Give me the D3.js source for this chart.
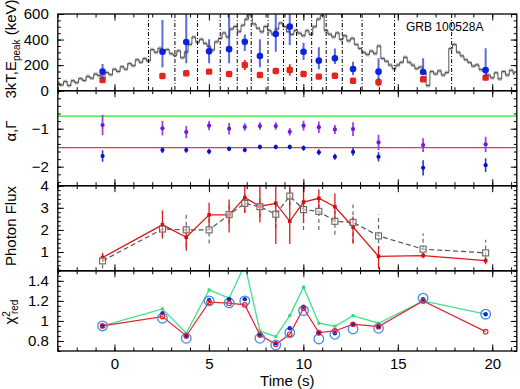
<!DOCTYPE html>
<html><head><meta charset="utf-8">
<script src="https://cdn.jsdelivr.net/npm/d3@7"></script>
<style>
body{margin:0;background:#fff}
text{font-family:"Liberation Sans",Arial,Helvetica,sans-serif}
</style>
</head><body>
<svg id="c" width="520" height="389"></svg>
<script>
// ---------- DATA ----------
const times = [-0.63, 2.54, 3.80, 5.01, 6.07, 6.90, 7.70, 8.54, 9.28, 10.01, 10.82, 11.67, 12.63, 13.98, 16.34, 19.65];
const binEdges = [1.80, 3.20, 4.40, 5.60, 6.50, 7.24, 8.13, 8.95, 9.64, 10.44, 11.21, 12.06, 13.11, 14.83, 17.85];

// Panel 1: light curve (scaled counts), Epeak and 3kT
const lcStart = -3.0, lcStep = 0.2;
const lightCurve = [60,45,72,40,78,62,95,80,112,98,130,118,92,142,125,168,150,188,168,212,
  195,242,222,252,232,322,300,332,305,322,290,276,312,258,302,362,420,380,402,370,
  345,318,382,410,452,420,482,502,462,512,560,595,522,488,460,502,470,442,482,530,
  502,462,440,472,450,430,470,440,500,560,590,470,442,420,452,400,430,390,410,362,
  330,300,282,310,290,350,252,230,200,172,200,222,262,222,200,172,185,142,40,150,
  130,155,122,142,330,362,300,272,242,220,192,202,165,150,122,100,140,92,150,122,160,132];
const epeak   = [149, 305, 381, 308, 325, 382, 271, 443, 501, 305, 235, 253, 170, 149, 146, 162];
const epeakLo = [89, 183, 214, 214, 214, 310, 183, 305, 357, 240, 167, 209, 123, 84, 123, 110];
const epeakHi = [209, 553, 700, 402, 700, 440, 402, 700, 700, 375, 339, 331, 227, 253, 253, 332];
const kT3     = [84, 115, 136, 149, 131, 201, 123, 154, 162, 131, 110, 117, 78, 66, 89, 102];
const kT3Err  = [12, 12, 15, 12, 12, 40, 12, 20, 45, 12, 10, 10, 10, 32, 10, 10];

// Panel 2: alpha and Gamma
const alpha    = [-0.905, -0.99, -1.09, -0.92, -1.0, -0.955, -0.93, -0.93, -1.08, -0.92, -0.96, -1.02, -1.01, -1.36, -1.43, -1.41];
const alphaErr = [0.27, 0.19, 0.16, 0.12, 0.15, 0.1, 0.1, 0.1, 0.1, 0.13, 0.15, 0.12, 0.18, 0.2, 0.18, 0.2];
const gamma    = [-1.72, -1.56, -1.56, -1.6, -1.53, -1.56, -1.48, -1.48, -1.48, -1.51, -1.62, -1.74, -1.61, -1.74, -2.03, -1.96];
const gammaErr = [0.15, 0.08, 0.07, 0.07, 0.06, 0.06, 0.06, 0.06, 0.06, 0.07, 0.08, 0.08, 0.1, 0.12, 0.2, 0.18];
const lineOfDeath = [-2/3, -3/2];

// Panel 3: photon flux
const flux     = [0.75, 2.23, 1.67, 2.68, 2.68, 3.46, 3.07, 3.2, 2.39, 3.26, 3.43, 3.05, 2.13, 0.8, 0.84, 0.61];
const fluxLo   = [0.55, 1.67, 1.06, 2.16, 1.88, 2.77, 2.33, 1.36, 1.36, 2.31, 2.92, 2.39, 1.39, 0.25, 0.72, 0.45];
const fluxHi   = [0.96, 2.88, 2.16, 3.23, 3.38, 4.2, 4.0, 4.2, 3.99, 4.2, 3.84, 3.66, 2.61, 1.27, 0.96, 0.77];
const fluxTh   = [0.6, 2.04, 2.0, 2.0, 2.69, 3.2, 3.05, 2.71, 3.53, 2.92, 2.84, 2.39, 2.34, 1.73, 1.13, 0.96];
const fluxThLo = [0.25, 1.6, 1.24, 1.39, 2.3, 2.8, 2.6, 2.08, 3.07, 2.0, 2.0, 1.78, 1.4, 1.09, 0.78, 0.8];
const fluxThHi = [0.86, 2.5, 2.77, 2.54, 3.1, 3.6, 3.5, 3.23, 3.96, 3.5, 3.38, 2.85, 3.15, 2.7, 1.85, 1.55];

// Panel 4: reduced chi-square
const chiGreen  = [0.95, 1.12, 0.877, 1.31, 1.227, 1.56, 0.9, 0.843, 1.053, 1.337, 0.977, 0.947, 1.053, 0.977, 1.2, 1.067];
const chiRed    = [0.95, 1.043, 0.85, 1.187, 1.177, 1.16, 0.86, 0.767, 0.867, 1.127, 0.883, 0.9, 0.967, 0.943, 1.2, 0.893];
const chiBlue   = [0.95, 1.077, 0.85, 1.21, 1.217, 1.217, 0.86, 0.777, 0.927, 1.143, 0.877, 0.877, 0.967, 0.94, 1.217, 1.067];
const chiCircle = [0.95, 1.027, 0.827, 1.2, 1.18, 1.2, 0.827, 0.76, 0.883, 1.103, 0.82, 0.867, 0.92, 0.927, 1.227, 1.067];

const xMajor = [0, 5, 10, 15, 20];
const xMinor = d3.range(-3, 22, 1);

// ---------- LAYOUT ----------
const svg = d3.select("#c");
const X0 = 57.8, X1 = 516.8;
const x = d3.scaleLinear().domain([-3, 21.3]).range([X0, X1]);

const P = [
  {y0:14,    y1:90.7,  dom:[0,600],    major:[0,200,400,600], minor:d3.range(0,601,50),        fmt:d3.format("d")},
  {y0:90.7,  y1:185.7, dom:[-2.5,0],   major:[-2,-1],         minor:d3.range(-2.4,0.01,0.2),   fmt:d3.format("d")},
  {y0:185.7, y1:270.8, dom:[0.15,4],   major:[1,2,3,4],       minor:d3.range(0.2,4.01,0.2),    fmt:d3.format("d")},
  {y0:270.8, y1:351,   dom:[0.7,1.5],  major:[0.8,1,1.2,1.4], minor:d3.range(0.7,1.501,0.05),  fmt:d3.format("~g")}
];

const defs = svg.append("defs");
P.forEach((p,i)=>{
  p.y = d3.scaleLinear().domain(p.dom).range([p.y1,p.y0]);
  defs.append("clipPath").attr("id","clip"+i).append("rect")
    .attr("x",X0).attr("y",p.y0).attr("width",X1-X0).attr("height",p.y1-p.y0);
  p.g = svg.append("g").attr("clip-path",`url(#clip${i})`);
});

// ---------- PANEL 1 ----------
{
  const p = P[0], y = p.y, g = p.g;
  const lc = lightCurve.map((v,i)=>({t: lcStart + i*lcStep, v}));
  g.append("path").datum(lc)
    .attr("d", d3.area().curve(d3.curveStep).x(d=>x(d.t)).y0(d=>y(d.v-14)).y1(d=>y(d.v+14)))
    .attr("fill","#bcbcbc");
  g.append("path").datum(lc)
    .attr("d", d3.line().curve(d3.curveStep).x(d=>x(d.t)).y(d=>y(d.v)))
    .attr("fill","none").attr("stroke","#444").attr("stroke-width",0.9);
  g.selectAll(".edge").data(binEdges).join("line")
    .attr("x1",d=>x(d)).attr("x2",d=>x(d)).attr("y1",p.y0).attr("y2",p.y1)
    .attr("stroke","#000").attr("stroke-width",1).attr("stroke-dasharray","4,2,1,2");
  g.selectAll(".kterr").data(times).join("line")
    .attr("x1",d=>x(d)).attr("x2",d=>x(d))
    .attr("y1",(d,i)=>y(kT3[i]-kT3Err[i])).attr("y2",(d,i)=>y(kT3[i]+kT3Err[i]))
    .attr("stroke","#e52420").attr("stroke-width",1.8);
  g.selectAll(".kt").data(times).join("rect")
    .attr("x",d=>x(d)-3.2).attr("y",(d,i)=>y(kT3[i])-3.2).attr("width",6.4).attr("height",6.4).attr("rx",1.6)
    .attr("fill","#e8231f");
  g.selectAll(".eperr").data(times).join("line")
    .attr("x1",d=>x(d)).attr("x2",d=>x(d))
    .attr("y1",(d,i)=>y(epeakLo[i])).attr("y2",(d,i)=>y(epeakHi[i]))
    .attr("stroke","#2438d2").attr("stroke-width",2).attr("stroke-opacity",0.75);
  g.selectAll(".ep").data(times).join("circle")
    .attr("cx",d=>x(d)).attr("cy",(d,i)=>y(epeak[i])).attr("r",3.3)
    .attr("fill","#0b22e0");
  svg.append("text").attr("x",444.7).attr("y",31).attr("text-anchor","middle")
    .attr("font-size",12).text("GRB 100528A");
}

// ---------- PANEL 2 ----------
{
  const p = P[1], y = p.y, g = p.g;
  const cols = ["#33dd33","#e23a3a"];
  g.selectAll(".lod").data(lineOfDeath).join("line")
    .attr("x1",X0).attr("x2",X1).attr("y1",d=>y(d)).attr("y2",d=>y(d))
    .attr("stroke",(d,i)=>cols[i]).attr("stroke-width",1.3);
  g.selectAll(".aerr").data(times).join("line")
    .attr("x1",d=>x(d)).attr("x2",d=>x(d))
    .attr("y1",(d,i)=>y(alpha[i]-alphaErr[i])).attr("y2",(d,i)=>y(alpha[i]+alphaErr[i]))
    .attr("stroke","#9a45ea").attr("stroke-width",1.8);
  g.selectAll(".a").data(times).join("circle")
    .attr("cx",d=>x(d)).attr("cy",(d,i)=>y(alpha[i])).attr("r",2.1).attr("fill","#7418d8");
  g.selectAll(".gerr").data(times).join("line")
    .attr("x1",d=>x(d)).attr("x2",d=>x(d))
    .attr("y1",(d,i)=>y(gamma[i]-gammaErr[i])).attr("y2",(d,i)=>y(gamma[i]+gammaErr[i]))
    .attr("stroke","#2a35d4").attr("stroke-width",1.6);
  g.selectAll(".gm").data(times).join("circle")
    .attr("cx",d=>x(d)).attr("cy",(d,i)=>y(gamma[i])).attr("r",2.1).attr("fill","#0a0fbf");
}

// ---------- PANEL 3 ----------
{
  const p = P[2], y = p.y, g = p.g;
  g.selectAll(".therr").data(times).join("line")
    .attr("x1",d=>x(d)).attr("x2",d=>x(d))
    .attr("y1",(d,i)=>y(fluxThLo[i])).attr("y2",(d,i)=>y(fluxThHi[i]))
    .attr("stroke","#666").attr("stroke-width",1.2).attr("stroke-dasharray","4,3");
  g.append("path").datum(times)
    .attr("d", d3.line().x(d=>x(d)).y((d,i)=>y(fluxTh[i])))
    .attr("fill","none").attr("stroke","#555").attr("stroke-width",1.2).attr("stroke-dasharray","5,3");
  g.selectAll(".ferr").data(times).join("line")
    .attr("x1",d=>x(d)).attr("x2",d=>x(d))
    .attr("y1",(d,i)=>y(fluxLo[i])).attr("y2",(d,i)=>y(fluxHi[i]))
    .attr("stroke","#e01818").attr("stroke-width",1.3);
  g.append("path").datum(times)
    .attr("d", d3.line().x(d=>x(d)).y((d,i)=>y(flux[i])))
    .attr("fill","none").attr("stroke","#e01818").attr("stroke-width",1.3);
  g.selectAll(".f").data(times).join("rect")
    .attr("x",d=>x(d)-1.8).attr("y",(d,i)=>y(flux[i])-1.8).attr("width",3.6).attr("height",3.6)
    .attr("fill","#d01010");
  g.selectAll(".th").data(times).join("rect")
    .attr("x",d=>x(d)-3).attr("y",(d,i)=>y(fluxTh[i])-3).attr("width",6).attr("height",6)
    .attr("fill","rgba(255,255,255,0.5)").attr("stroke","#666").attr("stroke-width",1.1);
}

// ---------- PANEL 4 ----------
{
  const p = P[3], y = p.y, g = p.g;
  g.append("path").datum(times)
    .attr("d", d3.line().x(d=>x(d)).y((d,i)=>y(chiGreen[i])))
    .attr("fill","none").attr("stroke","#3fe28c").attr("stroke-width",1.3);
  g.selectAll(".gs").data(times).join("rect")
    .attr("x",d=>x(d)-1.5).attr("y",(d,i)=>y(chiGreen[i])-1.5).attr("width",3).attr("height",3)
    .attr("fill","#2fd87c");
  g.append("path").datum(times)
    .attr("d", d3.line().x(d=>x(d)).y((d,i)=>y(chiRed[i])))
    .attr("fill","none").attr("stroke","#e3262e").attr("stroke-width",1.2);
  g.selectAll(".oc").data(times).join("circle")
    .attr("cx",d=>x(d)).attr("cy",(d,i)=>y(chiCircle[i])).attr("r",4.8)
    .attr("fill","none").attr("stroke","#3d8ef0").attr("stroke-width",1.3);
  g.selectAll(".bd").data(times).join("circle")
    .attr("cx",d=>x(d)).attr("cy",(d,i)=>y(chiBlue[i])).attr("r",2.2).attr("fill","#1428c8");
  g.selectAll(".rc").data(times).join("circle")
    .attr("cx",d=>x(d)).attr("cy",(d,i)=>y(chiRed[i])).attr("r",2.3)
    .attr("fill","none").attr("stroke","#e3262e").attr("stroke-width",1.1);
}

// ---------- AXES ----------
function clean(sel){
  sel.select(".domain").remove();
  sel.selectAll(".tick line").attr("stroke","#000").attr("stroke-width",1);
  sel.selectAll("text").attr("font-size",15).attr("fill","#000")
     .attr("font-family",'"Liberation Sans",Arial,Helvetica,sans-serif');
}
P.forEach((p,i)=>{
  const a = svg.append("g");
  a.append("g").attr("transform",`translate(0,${p.y1})`)
    .call(d3.axisBottom(x).tickValues(xMinor).tickSize(-3.5).tickFormat("")).call(clean);
  a.append("g").attr("transform",`translate(0,${p.y1})`)
    .call(d3.axisBottom(x).tickValues(xMajor).tickSize(-6.5).tickPadding(7.3)
      .tickFormat(i===3 ? d3.format("d") : "")).call(clean);
  a.append("g").attr("transform",`translate(0,${p.y0})`)
    .call(d3.axisTop(x).tickValues(xMinor).tickSize(-3.5).tickFormat("")).call(clean);
  a.append("g").attr("transform",`translate(0,${p.y0})`)
    .call(d3.axisTop(x).tickValues(xMajor).tickSize(-6.5).tickFormat("")).call(clean);
  a.append("g").attr("transform",`translate(${X0},0)`)
    .call(d3.axisLeft(p.y).tickValues(p.minor).tickSize(-3).tickFormat("")).call(clean);
  a.append("g").attr("transform",`translate(${X0},0)`)
    .call(d3.axisLeft(p.y).tickValues(p.major).tickSize(-6).tickPadding(9).tickFormat(p.fmt)).call(clean);
  a.append("g").attr("transform",`translate(${X1},0)`)
    .call(d3.axisRight(p.y).tickValues(p.minor).tickSize(-3).tickFormat("")).call(clean);
  a.append("g").attr("transform",`translate(${X1},0)`)
    .call(d3.axisRight(p.y).tickValues(p.major).tickSize(-6).tickFormat("")).call(clean);
  svg.append("rect").attr("x",X0).attr("y",p.y0).attr("width",X1-X0).attr("height",p.y1-p.y0)
    .attr("fill","none").attr("stroke","#000").attr("stroke-width",1.3);
});

// ---------- AXIS TITLES ----------
svg.append("text").attr("x",(X0+X1)/2).attr("y",385.5).attr("text-anchor","middle")
  .attr("font-size",15).text("Time (s)");

function ylab(cx, cy){
  return svg.append("text").attr("transform",`translate(${cx},${cy}) rotate(-90)`)
    .attr("text-anchor","middle").attr("font-size",15);
}
{
  const t = ylab(16, 49);
  t.append("tspan").text("3kT,E");
  t.append("tspan").attr("font-size",10).attr("dy",3.5).text("peak");
  t.append("tspan").attr("dy",-3.5).text(" (keV)");
}
ylab(16, 131).text("α,Γ");
ylab(16, 226).text("Photon Flux");
{
  const t = svg.append("text").attr("transform",`translate(15,324.5) rotate(-90)`)
    .attr("text-anchor","start").attr("font-size",15);
  t.append("tspan").text("χ");
  t.append("tspan").attr("font-size",10).attr("dy",-5.5).text("2");
  t.append("tspan").attr("font-size",10).attr("dx",-3).attr("dy",8.5).text("red");
}
</script>
</body></html>
